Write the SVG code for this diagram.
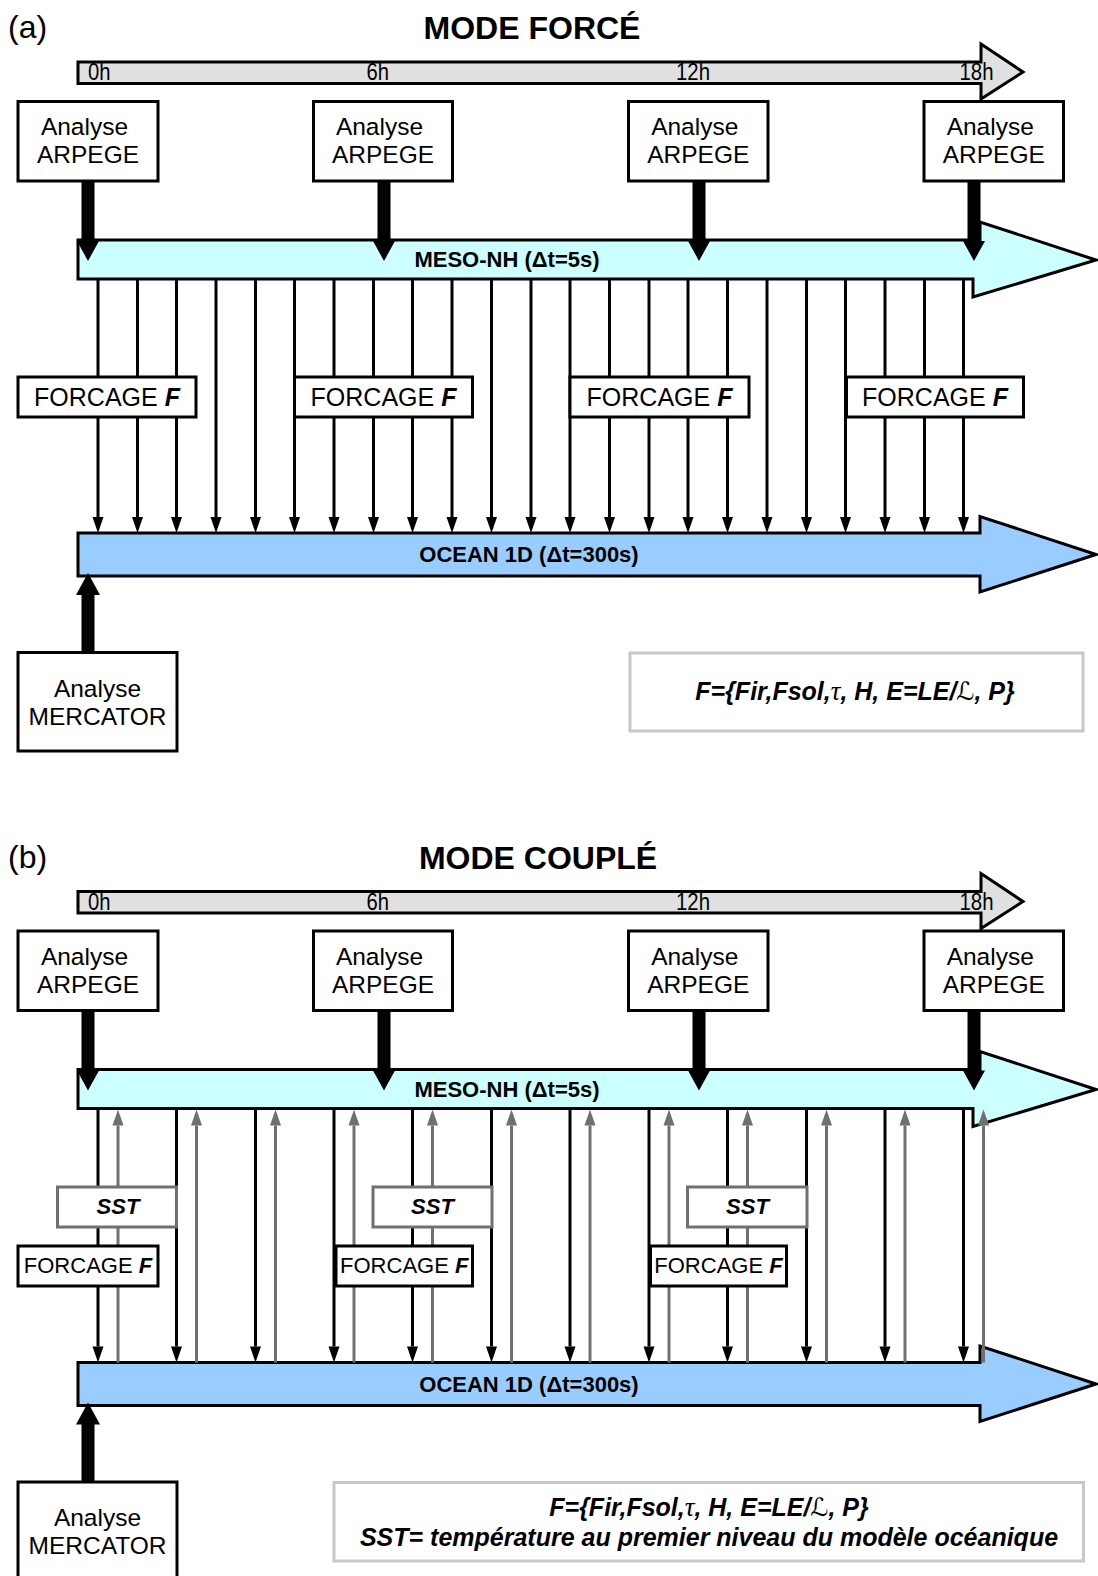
<svg xmlns="http://www.w3.org/2000/svg" width="1098" height="1576" viewBox="0 0 1098 1576">
<style>
text{font-family:'Liberation Sans',Arial,sans-serif;fill:#000}
.tag{font-size:32px}
.title{font-size:32px;font-weight:bold;text-anchor:middle}
.hr{font-size:23px}
.box{fill:#fff;stroke:#000;stroke-width:3}
.sst{fill:#fff;stroke:#707070;stroke-width:3}
.leg{fill:#fff;stroke:#c8c8c8;stroke-width:3}
.tl{fill:#e0e0e0;stroke:#000;stroke-width:3}
.meso{fill:#ccffff;stroke:#000;stroke-width:3}
.ocean{fill:#99ccff;stroke:#000;stroke-width:3}
.nm{font-size:24.5px;text-anchor:middle}
.fb{font-size:25px;text-anchor:middle}
.fs{font-size:22px;text-anchor:middle}
.bar{font-size:22px;font-weight:bold;text-anchor:middle}
.bi{font-weight:bold;font-style:italic}
.lt{font-size:25px;font-weight:bold;font-style:italic;text-anchor:middle}
.gr{font-family:'Liberation Serif',serif;font-weight:normal;font-style:italic;font-size:27px}
.scr{font-family:'DejaVu Serif','DejaVu Sans',serif;font-weight:normal;font-style:italic}
.ln{stroke:#000;stroke-width:3;marker-end:url(#hb)}
.gl{stroke:#707070;stroke-width:3;marker-end:url(#hg)}
.thick{fill:#000}
</style>
<defs>
<marker id="hb" markerUnits="userSpaceOnUse" markerWidth="18" markerHeight="14" refX="0" refY="7" orient="auto" overflow="visible"><path d="M0,1.5 L16,7 L0,12.5 Z" fill="#000"/></marker>
<marker id="hg" markerUnits="userSpaceOnUse" markerWidth="18" markerHeight="14" refX="0" refY="7" orient="auto" overflow="visible"><path d="M0,1.5 L16,7 L0,12.5 Z" fill="#707070"/></marker>
<path id="down" class="thick" d="M-6.5,-1 H6.5 V60 H11 L0,80 L-11,60 H-6.5 Z"/>
<path id="up" class="thick" d="M-6.5,1 H6.5 V-57 H12 L0,-79 L-12,-57 H-6.5 Z"/>
</defs>
<rect width="1098" height="1576" fill="#fff"/>

<!-- ================= PANEL A ================= -->
<g id="panel-a">
<text class="tag" x="8" y="38">(a)</text>
<text class="title" x="532" y="39">MODE FORCÉ</text>
<g id="a-timeline">
<polygon class="tl" points="78,62 981,62 981,44 1023,72 981,99 981,83.5 78,83.5"/>
<text class="hr" x="88" y="80" textLength="22.5" lengthAdjust="spacingAndGlyphs">0h</text>
<text class="hr" x="366.5" y="80" textLength="22.5" lengthAdjust="spacingAndGlyphs">6h</text>
<text class="hr" x="676" y="80" textLength="34" lengthAdjust="spacingAndGlyphs">12h</text>
<text class="hr" x="959.5" y="80" textLength="34" lengthAdjust="spacingAndGlyphs">18h</text>
</g>
<g id="a-meso">
<polygon class="meso" points="78,240 980,240 980,222 1096,260 973,297 973,279 78,279"/>
<text class="bar" x="507" y="267">MESO-NH (Δt=5s)</text>
</g>
<g id="a-ocean">
<polygon class="ocean" points="78,533 980,533 980,516.5 1096,554.5 980,592 980,576 78,576"/>
<text class="bar" x="529" y="562">OCEAN 1D (Δt=300s)</text>
</g>
<g id="a-connectors">
<line class="ln" x1="98" y1="279" x2="98" y2="517"/>
<line class="ln" x1="137.5" y1="279" x2="137.5" y2="517"/>
<line class="ln" x1="176.5" y1="279" x2="176.5" y2="517"/>
<line class="ln" x1="216" y1="279" x2="216" y2="517"/>
<line class="ln" x1="255.5" y1="279" x2="255.5" y2="517"/>
<line class="ln" x1="294.5" y1="279" x2="294.5" y2="517"/>
<line class="ln" x1="334" y1="279" x2="334" y2="517"/>
<line class="ln" x1="373.5" y1="279" x2="373.5" y2="517"/>
<line class="ln" x1="412.5" y1="279" x2="412.5" y2="517"/>
<line class="ln" x1="452" y1="279" x2="452" y2="517"/>
<line class="ln" x1="491.5" y1="279" x2="491.5" y2="517"/>
<line class="ln" x1="531" y1="279" x2="531" y2="517"/>
<line class="ln" x1="570" y1="279" x2="570" y2="517"/>
<line class="ln" x1="609.5" y1="279" x2="609.5" y2="517"/>
<line class="ln" x1="649" y1="279" x2="649" y2="517"/>
<line class="ln" x1="688" y1="279" x2="688" y2="517"/>
<line class="ln" x1="727.5" y1="279" x2="727.5" y2="517"/>
<line class="ln" x1="767" y1="279" x2="767" y2="517"/>
<line class="ln" x1="806.5" y1="279" x2="806.5" y2="517"/>
<line class="ln" x1="845.5" y1="279" x2="845.5" y2="517"/>
<line class="ln" x1="885" y1="279" x2="885" y2="517"/>
<line class="ln" x1="924.5" y1="279" x2="924.5" y2="517"/>
<line class="ln" x1="963.5" y1="279" x2="963.5" y2="517"/>
<use href="#down" x="88" y="181"/>
<use href="#down" x="384" y="181"/>
<use href="#down" x="699" y="181"/>
<use href="#down" x="974" y="181"/>
<use href="#up" x="88" y="652"/>
</g>
<g id="a-arpege-0h"><rect class="box" x="18" y="101.5" width="140" height="79.5"/><text class="nm" x="84.5" y="135">Analyse</text><text class="nm" x="88" y="163">ARPEGE</text></g>
<g id="a-arpege-6h"><rect class="box" x="313.5" y="101.5" width="139" height="79.5"/><text class="nm" x="379.5" y="135">Analyse</text><text class="nm" x="383" y="163">ARPEGE</text></g>
<g id="a-arpege-12h"><rect class="box" x="628.5" y="101.5" width="139.5" height="79.5"/><text class="nm" x="694.75" y="135">Analyse</text><text class="nm" x="698.25" y="163">ARPEGE</text></g>
<g id="a-arpege-18h"><rect class="box" x="924" y="101.5" width="139.5" height="79.5"/><text class="nm" x="990.25" y="135">Analyse</text><text class="nm" x="993.75" y="163">ARPEGE</text></g>
<g id="a-forcage-1"><rect class="box" x="18" y="377" width="178" height="40"/><text class="fb" x="107" y="406">FORCAGE <tspan class="bi">F</tspan></text></g>
<g id="a-forcage-2"><rect class="box" x="294.5" y="377" width="178" height="40"/><text class="fb" x="383.5" y="406">FORCAGE <tspan class="bi">F</tspan></text></g>
<g id="a-forcage-3"><rect class="box" x="570" y="377" width="179" height="40"/><text class="fb" x="659.5" y="406">FORCAGE <tspan class="bi">F</tspan></text></g>
<g id="a-forcage-4"><rect class="box" x="846.5" y="377" width="177" height="40"/><text class="fb" x="935" y="406">FORCAGE <tspan class="bi">F</tspan></text></g>
<g id="a-mercator"><rect class="box" x="18" y="652.5" width="159" height="98.5"/><text class="nm" x="97.5" y="696.5">Analyse</text><text class="nm" x="97.5" y="724.5">MERCATOR</text></g>
<g id="a-legend"><rect class="leg" x="630" y="653" width="453" height="78"/><text class="lt" x="855" y="700">F={Fir,Fsol,<tspan class="gr">τ</tspan>, H, E=LE/<tspan class="scr">ℒ</tspan>, P}</text></g>
</g>

<!-- ================= PANEL B ================= -->
<g id="panel-b" transform="translate(0,829.5)">
<text class="tag" x="8" y="38">(b)</text>
<text class="title" x="538" y="39">MODE COUPLÉ</text>
<g id="b-timeline">
<polygon class="tl" points="78,62 981,62 981,44 1023,72 981,99 981,83.5 78,83.5"/>
<text class="hr" x="88" y="80" textLength="22.5" lengthAdjust="spacingAndGlyphs">0h</text>
<text class="hr" x="366.5" y="80" textLength="22.5" lengthAdjust="spacingAndGlyphs">6h</text>
<text class="hr" x="676" y="80" textLength="34" lengthAdjust="spacingAndGlyphs">12h</text>
<text class="hr" x="959.5" y="80" textLength="34" lengthAdjust="spacingAndGlyphs">18h</text>
</g>
<g id="b-meso">
<polygon class="meso" points="78,240 980,240 980,222 1096,260 973,297 973,279 78,279"/>
<text class="bar" x="507" y="267">MESO-NH (Δt=5s)</text>
</g>
<g id="b-ocean">
<polygon class="ocean" points="78,533 980,533 980,516.5 1096,554.5 980,592 980,576 78,576"/>
<text class="bar" x="529" y="562">OCEAN 1D (Δt=300s)</text>
</g>
<g id="b-connectors">
<line class="ln" x1="98" y1="279" x2="98" y2="517"/>
<line class="ln" x1="176.5" y1="279" x2="176.5" y2="517"/>
<line class="ln" x1="255.5" y1="279" x2="255.5" y2="517"/>
<line class="ln" x1="334" y1="279" x2="334" y2="517"/>
<line class="ln" x1="412.5" y1="279" x2="412.5" y2="517"/>
<line class="ln" x1="491.5" y1="279" x2="491.5" y2="517"/>
<line class="ln" x1="570" y1="279" x2="570" y2="517"/>
<line class="ln" x1="649" y1="279" x2="649" y2="517"/>
<line class="ln" x1="727.5" y1="279" x2="727.5" y2="517"/>
<line class="ln" x1="806.5" y1="279" x2="806.5" y2="517"/>
<line class="ln" x1="885" y1="279" x2="885" y2="517"/>
<line class="ln" x1="963.5" y1="279" x2="963.5" y2="517"/>
<line class="gl" x1="118" y1="533" x2="118" y2="296"/>
<line class="gl" x1="196.5" y1="533" x2="196.5" y2="296"/>
<line class="gl" x1="275.5" y1="533" x2="275.5" y2="296"/>
<line class="gl" x1="354" y1="533" x2="354" y2="296"/>
<line class="gl" x1="432.5" y1="533" x2="432.5" y2="296"/>
<line class="gl" x1="511.5" y1="533" x2="511.5" y2="296"/>
<line class="gl" x1="590" y1="533" x2="590" y2="296"/>
<line class="gl" x1="669" y1="533" x2="669" y2="296"/>
<line class="gl" x1="747.5" y1="533" x2="747.5" y2="296"/>
<line class="gl" x1="826.5" y1="533" x2="826.5" y2="296"/>
<line class="gl" x1="905" y1="533" x2="905" y2="296"/>
<line class="gl" x1="983.5" y1="533" x2="983.5" y2="296"/>
<use href="#down" x="88" y="181"/>
<use href="#down" x="384" y="181"/>
<use href="#down" x="699" y="181"/>
<use href="#down" x="974" y="181"/>
<use href="#up" x="88" y="652"/>
</g>
<g id="b-arpege-0h"><rect class="box" x="18" y="101.5" width="140" height="79.5"/><text class="nm" x="84.5" y="135">Analyse</text><text class="nm" x="88" y="163">ARPEGE</text></g>
<g id="b-arpege-6h"><rect class="box" x="313.5" y="101.5" width="139" height="79.5"/><text class="nm" x="379.5" y="135">Analyse</text><text class="nm" x="383" y="163">ARPEGE</text></g>
<g id="b-arpege-12h"><rect class="box" x="628.5" y="101.5" width="139.5" height="79.5"/><text class="nm" x="694.75" y="135">Analyse</text><text class="nm" x="698.25" y="163">ARPEGE</text></g>
<g id="b-arpege-18h"><rect class="box" x="924" y="101.5" width="139.5" height="79.5"/><text class="nm" x="990.25" y="135">Analyse</text><text class="nm" x="993.75" y="163">ARPEGE</text></g>
<g id="b-sst-1"><rect class="sst" x="57.5" y="357.5" width="119" height="40"/><text class="fs bi" x="118" y="384.5">SST</text></g>
<g id="b-sst-2"><rect class="sst" x="373" y="357.5" width="119" height="40"/><text class="fs bi" x="432.5" y="384.5">SST</text></g>
<g id="b-sst-3"><rect class="sst" x="687.5" y="357.5" width="119.5" height="40"/><text class="fs bi" x="747.5" y="384.5">SST</text></g>
<g id="b-forcage-1"><rect class="box" x="18" y="416.5" width="140" height="40"/><text class="fs" x="88" y="443.8">FORCAGE <tspan class="bi">F</tspan></text></g>
<g id="b-forcage-2"><rect class="box" x="336" y="416.5" width="136.5" height="40"/><text class="fs" x="404.25" y="443.8">FORCAGE <tspan class="bi">F</tspan></text></g>
<g id="b-forcage-3"><rect class="box" x="650.5" y="416.5" width="136" height="40"/><text class="fs" x="718.5" y="443.8">FORCAGE <tspan class="bi">F</tspan></text></g>
<g id="b-mercator"><rect class="box" x="18" y="652.5" width="159" height="98.5"/><text class="nm" x="97.5" y="696.5">Analyse</text><text class="nm" x="97.5" y="724.5">MERCATOR</text></g>
<g id="b-legend"><rect class="leg" x="334" y="653" width="749.5" height="78.5"/><text class="lt" x="709" y="686.5">F={Fir,Fsol,<tspan class="gr">τ</tspan>, H, E=LE/<tspan class="scr">ℒ</tspan>, P}</text><text class="lt" x="709" y="716.5">SST= température au premier niveau du modèle océanique</text></g>
</g>
</svg>
